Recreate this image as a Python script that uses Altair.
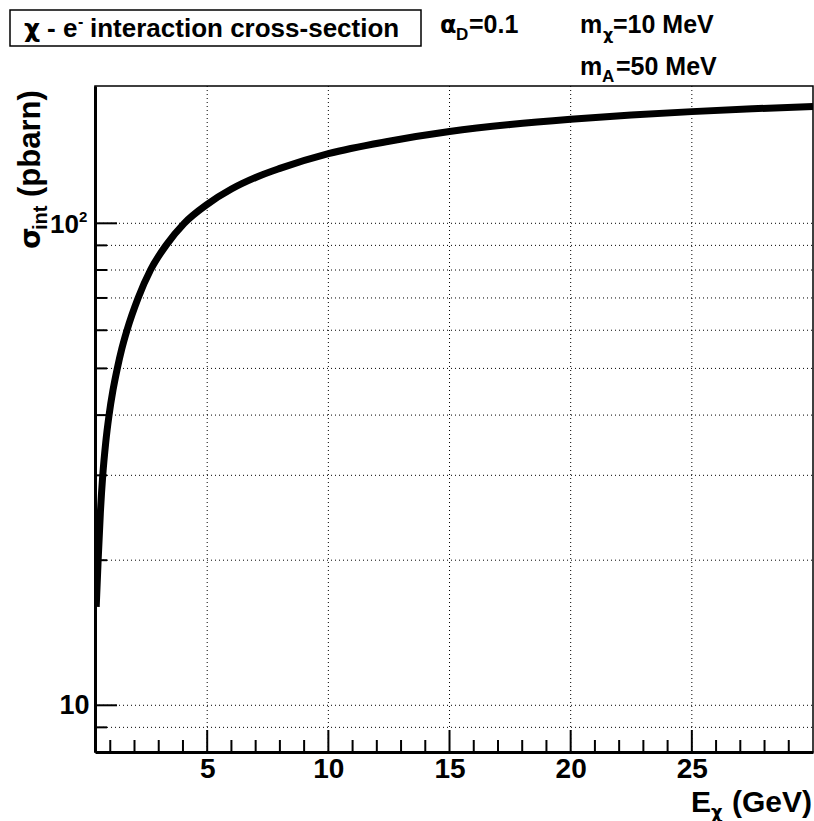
import altair as alt
import pandas as pd

# ---- data ----
energy_gev = [0.42, 0.50, 0.59, 0.69, 0.81, 0.95, 1.11, 1.29, 1.48, 1.69, 2.15, 2.66,
              3.30, 4.05, 5.0, 6.0, 7.0, 8.0, 10.0, 12.5, 15.0, 17.5, 20.0, 22.5,
              25.0, 27.5, 30.0]
sigma_pbarn = [16.0, 20, 25, 30, 35, 40, 45, 50, 55, 60, 70, 80,
               90, 100, 109.5, 117.8, 124.5, 130, 139.5, 148, 155, 160.3, 164.4, 167.7,
               170.5, 172.8, 174.8]

x_major = [5, 10, 15, 20, 25]
x_minor = [v for v in range(1, 30) if v % 5 != 0]
y_major = [10, 100]
y_minor = [9, 20, 30, 40, 50, 60, 70, 80, 90]
y_grid = [9, 10, 20, 30, 40, 50, 60, 70, 80, 90, 100]
y_label_plain = [10]
y_label_exp = [100]

FONT = "Liberation Sans"
GREEK = "DejaVu Sans"
W, H = 718, 666
L, T = 95, 86

xs = alt.Scale(domain=[0.37, 30], nice=False, zero=False)
ys = alt.Scale(type="log", domain=[8.0, 192.7], nice=False)

x_axis = alt.Axis(
    values=x_major, title=None, ticks=False, grid=False, domain=True,
    domainColor="black", domainWidth=3, labelFont=FONT, labelFontWeight="bold",
    labelFontSize=28, labelColor="black", labelPadding=3, format="d")
y_axis = alt.Axis(
    values=y_label_plain, title=None, ticks=False, grid=False, domain=True,
    domainColor="black", domainWidth=3, labelFont=FONT, labelFontWeight="bold",
    labelFontSize=27, labelColor="black", labelPadding=6, format="d")

curve_df = pd.DataFrame({"E": energy_gev, "sigma": sigma_pbarn})

# grid
vgrid = alt.Chart(pd.DataFrame({"v": x_major})).mark_rule(
    color="black", strokeWidth=1, strokeDash=[1, 3]
).encode(x=alt.X("v:Q", scale=xs, axis=x_axis), y=alt.value(0), y2=alt.value(H))
hgrid = alt.Chart(pd.DataFrame({"v": y_grid})).mark_rule(
    color="black", strokeWidth=1, strokeDash=[1, 3]
).encode(y=alt.Y("v:Q", scale=ys, axis=y_axis), x=alt.value(0), x2=alt.value(W))

# ticks (drawn inside the frame)
xmaj = alt.Chart(pd.DataFrame({"v": x_major})).mark_rule(color="black", strokeWidth=2).encode(
    x=alt.X("v:Q", scale=xs, axis=x_axis), y=alt.value(H), y2=alt.value(H - 22))
xmin = alt.Chart(pd.DataFrame({"v": x_minor})).mark_rule(color="black", strokeWidth=2).encode(
    x=alt.X("v:Q", scale=xs, axis=x_axis), y=alt.value(H), y2=alt.value(H - 12))
ymaj = alt.Chart(pd.DataFrame({"v": y_major})).mark_rule(color="black", strokeWidth=2).encode(
    y=alt.Y("v:Q", scale=ys, axis=y_axis), x=alt.value(0), x2=alt.value(22))
ymin = alt.Chart(pd.DataFrame({"v": y_minor})).mark_rule(color="black", strokeWidth=2).encode(
    y=alt.Y("v:Q", scale=ys, axis=y_axis), x=alt.value(0), x2=alt.value(12))

curve = alt.Chart(curve_df).mark_line(
    color="black", strokeWidth=7, interpolate="monotone", clip=True
).encode(
    x=alt.X("E:Q", scale=xs, axis=x_axis),
    y=alt.Y("sigma:Q", scale=ys, axis=y_axis),
)

# "10" with a small raised "2" at the 100 tick
exp_df = pd.DataFrame({"v": y_label_exp})
exp_base = alt.Chart(exp_df).mark_text(
    text="10", font=FONT, fontWeight="bold", fontSize=26, align="right",
    baseline="middle", dy=2, color="black"
).encode(y=alt.Y("v:Q", scale=ys, axis=y_axis), x=alt.value(79 - L))
exp_pow = alt.Chart(exp_df).mark_text(
    text="2", font=FONT, fontWeight="bold", fontSize=15, align="left",
    baseline="alphabetic", dy=-1, color="black"
).encode(y=alt.Y("v:Q", scale=ys, axis=y_axis), x=alt.value(79 - L))

one = pd.DataFrame({"k": [0]})


def label(text, x, y, size, angle=0, align="left", font=FONT):
    kw = dict(text=text, font=font, fontWeight="bold", fontSize=size,
              align=align, baseline="alphabetic", color="black")
    if angle:
        kw["angle"] = angle
    return alt.Chart(one).mark_text(**kw).encode(x=alt.value(x - L), y=alt.value(y - T))


box = alt.Chart(one).mark_rect(fill="white", stroke="black", strokeWidth=1.5).encode(
    x=alt.value(10 - L), x2=alt.value(421 - L), y=alt.value(10 - T), y2=alt.value(46 - T))

texts = [
    # boxed title
    label("χ", 24, 37, 25, font=GREEK),
    label("- e", 47, 37, 26),
    label("-", 78, 27, 16),
    label("interaction cross-section", 90, 37, 26),
    # parameters
    label("α", 440, 33, 24, font=GREEK),
    label("D", 456, 40, 17),
    label("=0.1", 469, 33, 25),
    label("m", 580, 33, 25),
    label("χ", 603, 40, 16, font=GREEK),
    label("=10 MeV", 613, 33, 25),
    label("m", 580, 75, 25),
    label("A", 602, 82, 17),
    label("=50 MeV", 616, 75, 25),
    # y title
    label("σ", 40, 249, 28, angle=270, font=GREEK),
    label("int", 47, 230, 20, angle=270),
    label("(pbarn)", 40, 197, 31, angle=270),
    # x title
    label("E", 691, 812, 30),
    label("χ", 711, 818, 18, font=GREEK),
    label("(GeV)", 812, 812, 30, align="right"),
]

chart = alt.layer(
    vgrid, hgrid, curve, xmaj, xmin, ymaj, ymin, exp_base, exp_pow, box, *texts
).properties(
    width=W, height=H,
    padding={"left": L, "top": T, "right": 1, "bottom": 821 - T - H},
    autosize=alt.AutoSizeParams(type="none"),
    background="white",
).configure_view(stroke="black", strokeWidth=1.5)

chart.save("out.html", embed_options={"renderer": "svg", "actions": False})
